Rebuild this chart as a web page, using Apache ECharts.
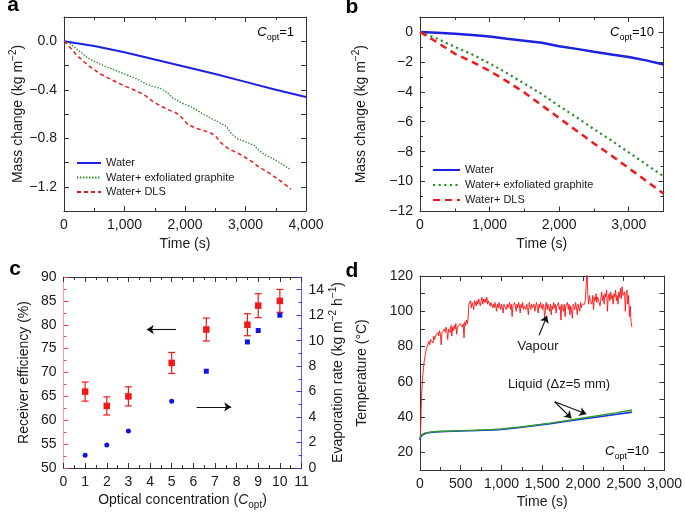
<!DOCTYPE html>
<html><head><meta charset="utf-8">
<script src="https://cdn.jsdelivr.net/npm/echarts@6/dist/echarts.min.js"></script>
<style>html,body{margin:0;padding:0;background:#fff}#c{width:685px;height:517px}</style>
</head><body><div id="c"></div>
<script>
// ---------- Panel a (Copt = 1) ----------
const aWaterT = [0,500,1000,1500,2000,2500,3000,3500,4000];
const aWaterM = [0,-0.04,-0.09,-0.15,-0.21,-0.27,-0.335,-0.40,-0.46];
const aGraphT = [0,100,200,400,600,800,1000,1200,1350,1450,1600,1700,1800,1950,2100,2300,2450,2600,2680,2750,2850,3000,3150,3200,3300,3500,3750];
const aGraphM = [0,-0.02,-0.06,-0.14,-0.19,-0.23,-0.27,-0.31,-0.35,-0.37,-0.39,-0.42,-0.47,-0.51,-0.54,-0.60,-0.64,-0.68,-0.70,-0.75,-0.80,-0.83,-0.86,-0.89,-0.93,-0.98,-1.06];
const aDlsT = [0,100,200,400,600,800,1000,1200,1350,1450,1550,1700,1850,1950,2050,2200,2400,2500,2600,2700,2900,3100,3200,3400,3600,3750];
const aDlsM = [0,-0.05,-0.11,-0.20,-0.27,-0.32,-0.37,-0.41,-0.45,-0.49,-0.52,-0.56,-0.59,-0.63,-0.69,-0.72,-0.75,-0.78,-0.84,-0.88,-0.93,-0.99,-1.03,-1.09,-1.16,-1.22];

// ---------- Panel b (Copt = 10) ----------
const bT = [0,250,500,750,1000,1250,1500,1750,2000,2250,2500,2750,3000,3250,3500];
const bWaterM = [0,-0.05,-0.12,-0.20,-0.30,-0.45,-0.58,-0.72,-0.95,-1.13,-1.32,-1.50,-1.68,-1.90,-2.17];
const bGraphM = [0,-0.45,-1.0,-1.5,-2.1,-2.75,-3.45,-4.15,-4.95,-5.7,-6.5,-7.25,-8.05,-8.85,-9.65];
const bDlsM = [0,-0.7,-1.45,-2.0,-2.6,-3.3,-4.05,-4.9,-5.75,-6.6,-7.45,-8.25,-9.1,-9.95,-10.8];

// ---------- Panel c ----------
const cConc = [1,2,3,5,6.6,8.5,9,10];
const cEff = [66,63,65,72,79,80,84,85];
const cEffErr = [2.0,1.9,2.0,2.2,2.4,2.3,2.5,2.4];
const cEvap = [1.0,1.8,2.9,5.25,7.6,9.9,10.8,12.0];

// ---------- Panel d ----------
// vapour: first seconds as [t, T] pairs, then readings every 10 s from 100 s to 2600 s
const dVapourStart = [[0,27],[5,30],[10,37],[15,45],[20,52],[25,57],[30,61],[35,64],[40,66],[45,69],[50,71],[55,72],[60,74],[65,73],[70,77],[75,76],[80,79],[85,78],[90,80],[95,81]];
const dVapourT0 = 100, dVapourDt = 10;
const dVapour10s = [
  82,83,81,84,85,83,82,86,84,86,
  87,85,88,86,89,87,81,88,89,88,
  90,88,91,89,84,90,91,88,92,86,
  91,89,92,90,93,87,91,92,90,93,
  92,94,91,93,85,94,92,95,93,96,
  104,103,106,102,105,104,101,106,105,103,
  106,104,107,105,103,106,108,104,107,105,
  107,105,108,104,106,107,103,105,104,102,
  104,102,105,103,100,104,102,105,103,101,
  104,102,99,104,103,105,101,104,102,103,
  105,101,104,97,103,102,105,103,100,104,
  102,105,103,99,104,102,105,101,103,104,
  101,104,102,98,105,103,101,104,102,103,
  104,100,103,105,102,99,104,102,105,103,
  101,104,102,96,103,105,101,104,102,100,
  104,98,103,101,105,102,104,99,103,102,
  105,101,103,95,104,102,100,104,97,103,
  102,105,101,104,98,103,102,96,104,103,
  101,105,102,98,104,103,100,105,102,104,
  103,105,104,107,106,124,108,104,109,106,
  107,104,109,101,108,106,110,105,108,107,
  109,103,108,111,106,109,104,110,108,112,
  100,108,110,106,111,107,109,104,110,108,
  112,106,109,104,111,108,113,107,114,109,
  108,111,100,110,112,104,109,97,103,94,
  91
];
const dLiqT = [0,10,25,50,100,200,300,500,700,900,1000,1200,1400,1600,1800,2000,2200,2400,2600];
const dLiqGreen = [28,29.5,30.2,30.8,31.3,31.8,32.0,32.3,32.6,33.0,33.3,34.2,35.4,36.6,38.0,39.5,40.9,42.4,44.0];
const dLiqBlue = [27,29,29.9,30.5,31.1,31.6,31.8,32.1,32.4,32.7,33.0,34.0,35.1,36.3,37.6,38.9,40.2,41.5,42.8];

// ---------- styling ----------
const FONT = '"Liberation Sans", Arial, sans-serif';
const TXT = '#1a1a1a';
const AX = '#333';
const BLUE = '#1c22e0';
const GREEN = '#2b8f2b';
const RED = '#f01818';

function zip(xs, ys){ return xs.map((x,i)=>[x, ys[i]]); }
function thou(v){ return String(v).replace(/\B(?=(\d{3})+(?!\d))/g, ','); }
function minus(s){ return String(s).replace('-', '\u2212'); }
function rich(sz){
  return {
    n:{fontSize:sz, fontFamily:FONT, color:TXT, lineHeight:20},
    i:{fontSize:sz, fontFamily:FONT, color:TXT, fontStyle:'italic', lineHeight:20},
    s:{fontSize:Math.round(sz*0.72), fontFamily:FONT, color:TXT, verticalAlign:'bottom'},
    p:{fontSize:Math.round(sz*0.72), fontFamily:FONT, color:TXT, verticalAlign:'top'}
  };
}
function axis(g, pos, min, max, interval, minor, o){
  o = o || {};
  const lc = o.lineColor || AX, tc = o.tickColor || lc;
  return {
    type:'value', gridIndex:g, position:pos, min:min, max:max, interval:interval,
    axisLine:{show:true, onZero:false, lineStyle:{color:lc, width:1}},
    axisTick:{show:true, inside:true, length:5, lineStyle:{color:tc, width:1}},
    minorTick:{show:!!minor, splitNumber:minor||5, length:3, lineStyle:{color:tc, width:1}},
    axisLabel:{show:!!o.fmt, formatter:o.fmt, color:TXT, fontSize:14, fontFamily:FONT, margin:7, showMinLabel:true, showMaxLabel:true},
    splitLine:{show:false},
    name:o.name||'', nameLocation:'middle', nameGap:o.gap||30,
    nameTextStyle:o.nameStyle||{fontSize:14, fontFamily:FONT, color:TXT}
  };
}
const aYFmt = v => { const k = Math.round(v*10); if (k % 4 !== 0) return ''; return minus((k/10).toFixed(1)); };
const bXFmt = v => v > 3000 ? '' : thou(v);
const bYFmt = v => v > 0 ? '' : minus(v);
const cRFmt = v => v > 14 ? '' : String(v);
const dYFmt = v => (Math.round(v) % 20 === 0) ? String(v) : '';

const dVapour = dVapourStart.concat(dVapour10s.map((v,i)=>[dVapourT0 + i*dVapourDt, v]));

const arrowML = (pairs) => ({
  silent:true, symbol:['none','arrow'], symbolSize:7, animation:false,
  label:{show:false}, lineStyle:{color:'#111', width:1.1, type:'solid'},
  emphasis:{disabled:true},
  data: pairs.map(p => [{coord:p[0]}, {coord:p[1]}])
});
const legendBase = {orient:'vertical', padding:0, itemHeight:10, selectedMode:false,
  itemStyle:{opacity:0}, textStyle:{fontSize:11, fontFamily:FONT, color:TXT}};

const chart = echarts.init(document.getElementById('c'), null, {renderer:'canvas'});
const option = {
  animation:false,
  textStyle:{fontFamily:FONT},
  grid:[
    {left:64, top:17, width:242, height:194},
    {left:420, top:17, width:243.5, height:194.5},
    {left:63.5, top:277, width:238, height:191},
    {left:420, top:276, width:245, height:194}
  ],
  xAxis:[
    axis(0,'bottom',0,4000,1000,2,{fmt:thou, name:'Time (s)', gap:26}),
    axis(0,'top',0,4000,1000,2),
    axis(1,'bottom',0,3500,1000,2,{fmt:bXFmt, name:'Time (s)', gap:26}),
    axis(1,'top',0,3500,1000,2),
    axis(2,'bottom',0,11,1,2,{fmt:v=>String(v), name:'{n|Optical concentration (}{i|C}{s|opt}{n|)}', gap:22, nameStyle:{rich:rich(14)}}),
    axis(2,'top',0,11,1,2),
    axis(3,'bottom',0,3000,500,2,{fmt:thou, name:'Time (s)', gap:25}),
    axis(3,'top',0,3000,500,2)
  ],
  yAxis:[
    axis(0,'left',-1.4,0.2,0.2,0,{fmt:aYFmt, name:'{n|Mass change (kg m}{p|\u22122}{n|)}', gap:36, nameStyle:{rich:rich(14)}}),
    axis(0,'right',-1.4,0.2,0.2,0),
    axis(1,'left',-12,1,2,2,{fmt:bYFmt, name:'{n|Mass change (kg m}{p|\u22122}{n|)}', gap:49, nameStyle:{rich:rich(14)}}),
    axis(1,'right',-12,1,2,2),
    axis(2,'left',50,90,5,2,{fmt:v=>String(v), name:'Receiver efficiency (%)', gap:32, lineColor:'#f2a0a0', tickColor:'#e85050'}),
    axis(2,'right',0,15,2,2,{fmt:cRFmt, name:'{n|Evaporation rate (kg m}{p|\u22122}{n| h}{p|\u22121}{n|)}', gap:27, nameStyle:{rich:rich(14)}, lineColor:'#5a5aff', tickColor:'#3a3aff'}),
    axis(3,'left',10,120,10,0,{fmt:dYFmt, name:'Temperature (\u00b0C)', gap:51}),
    axis(3,'right',10,120,10,0)
  ],
  legend:[
    Object.assign({}, legendBase, {data:['Water','Water+ exfoliated graphite','Water+ DLS'],
      left:76, top:157.5, itemWidth:24, itemGap:3.5}),
    Object.assign({}, legendBase, {data:['Water ','Water+ exfoliated graphite ','Water+ DLS '],
      left:432, top:164.5, itemWidth:27, itemGap:4, formatter:n=>n.trim()})
  ],
  series:[
    // a
    {name:'Water', type:'line', xAxisIndex:0, yAxisIndex:0, symbol:'none', data:zip(aWaterT,aWaterM),
     lineStyle:{color:BLUE, width:2}, itemStyle:{color:BLUE}},
    {name:'Water+ exfoliated graphite', type:'line', xAxisIndex:0, yAxisIndex:0, symbol:'none', data:zip(aGraphT,aGraphM),
     lineStyle:{color:GREEN, width:1.4, type:[1.4,1.6]}, itemStyle:{color:GREEN}},
    {name:'Water+ DLS', type:'line', xAxisIndex:0, yAxisIndex:0, symbol:'none', data:zip(aDlsT,aDlsM),
     lineStyle:{color:RED, width:1.5, type:[4,3]}, itemStyle:{color:RED}},
    // b
    {name:'Water ', type:'line', xAxisIndex:2, yAxisIndex:2, symbol:'none', data:zip(bT,bWaterM),
     lineStyle:{color:BLUE, width:2.5}, itemStyle:{color:BLUE}},
    {name:'Water+ exfoliated graphite ', type:'line', xAxisIndex:2, yAxisIndex:2, symbol:'none', data:zip(bT,bGraphM),
     lineStyle:{color:GREEN, width:2.2, type:[2.2,3.4]}, itemStyle:{color:GREEN}},
    {name:'Water+ DLS ', type:'line', xAxisIndex:2, yAxisIndex:2, symbol:'none', data:zip(bT,bDlsM),
     lineStyle:{color:RED, width:2.5, type:[7,5]}, itemStyle:{color:RED}},
    // c
    {type:'custom', xAxisIndex:4, yAxisIndex:4, z:3,
     data: cConc.map((x,i)=>[x, cEff[i]-cEffErr[i], cEff[i]+cEffErr[i]]),
     encode:{x:0, y:[1,2]},
     renderItem:(params, api)=>{
       const x = api.value(0), lo = api.value(1), hi = api.value(2);
       const p1 = api.coord([x, lo]), p2 = api.coord([x, hi]);
       const w = 3.5, st = {stroke:RED, lineWidth:1.2};
       return {type:'group', children:[
         {type:'line', shape:{x1:p1[0], y1:p1[1], x2:p2[0], y2:p2[1]}, style:st},
         {type:'line', shape:{x1:p1[0]-w, y1:p1[1], x2:p1[0]+w, y2:p1[1]}, style:st},
         {type:'line', shape:{x1:p2[0]-w, y1:p2[1], x2:p2[0]+w, y2:p2[1]}, style:st}
       ]};
     }},
    {type:'scatter', xAxisIndex:4, yAxisIndex:4, symbol:'rect', symbolSize:6.5, z:4,
     data:zip(cConc,cEff), itemStyle:{color:RED, opacity:1},
     markLine: arrowML([[[5.2,79],[3.85,79]], [[6.15,62.8],[7.75,62.8]]])},
    {type:'scatter', xAxisIndex:4, yAxisIndex:5, z:4,
     symbol:(v,p)=> p.dataIndex < 4 ? 'circle' : 'rect', symbolSize:5,
     data:zip(cConc,cEvap), itemStyle:{color:'#1414e6', opacity:1}},
    // d
    {type:'line', xAxisIndex:6, yAxisIndex:6, symbol:'none', data:dVapour,
     lineStyle:{color:'#ff1010', width:0.9}, z:2,
     markLine: arrowML([[[1461,86.4],[1559,97.4]], [[1653,48.7],[1858,39.3]], [[1653,48.7],[2041,41.7]]])},
    {type:'line', xAxisIndex:6, yAxisIndex:6, symbol:'none', data:zip(dLiqT,dLiqBlue),
     lineStyle:{color:'#1a2ee6', width:1.6}, z:3},
    {type:'line', xAxisIndex:6, yAxisIndex:6, symbol:'none', data:zip(dLiqT,dLiqGreen),
     lineStyle:{color:'#2f9a2f', width:1.4}, z:4}
  ],
  graphic:[
    {type:'text', x:13, y:5, style:{text:'a', fontSize:21, fontWeight:'bold', fontFamily:FONT, fill:'#000', align:'center', verticalAlign:'middle'}},
    {type:'text', x:352, y:7, style:{text:'b', fontSize:21, fontWeight:'bold', fontFamily:FONT, fill:'#000', align:'center', verticalAlign:'middle'}},
    {type:'text', x:15, y:269, style:{text:'c', fontSize:21, fontWeight:'bold', fontFamily:FONT, fill:'#000', align:'center', verticalAlign:'middle'}},
    {type:'text', x:352, y:271, style:{text:'d', fontSize:21, fontWeight:'bold', fontFamily:FONT, fill:'#000', align:'center', verticalAlign:'middle'}},
    {type:'text', x:294, y:32, style:{text:'{i|C}{s|opt}{n|=1}', rich:rich(13), align:'right', verticalAlign:'middle'}},
    {type:'text', x:654, y:32, style:{text:'{i|C}{s|opt}{n|=10}', rich:rich(13), align:'right', verticalAlign:'middle'}},
    {type:'text', x:649, y:451, style:{text:'{i|C}{s|opt}{n|=10}', rich:rich(13), align:'right', verticalAlign:'middle'}},
    {type:'text', x:538, y:346, style:{text:'Vapour', fontSize:13, fontFamily:FONT, fill:TXT, align:'center', verticalAlign:'middle'}},
    {type:'text', x:559, y:384, style:{text:'Liquid (\u0394z=5 mm)', fontSize:13, fontFamily:FONT, fill:TXT, align:'center', verticalAlign:'middle'}}
  ]
};
chart.setOption(option);
</script></body></html>
